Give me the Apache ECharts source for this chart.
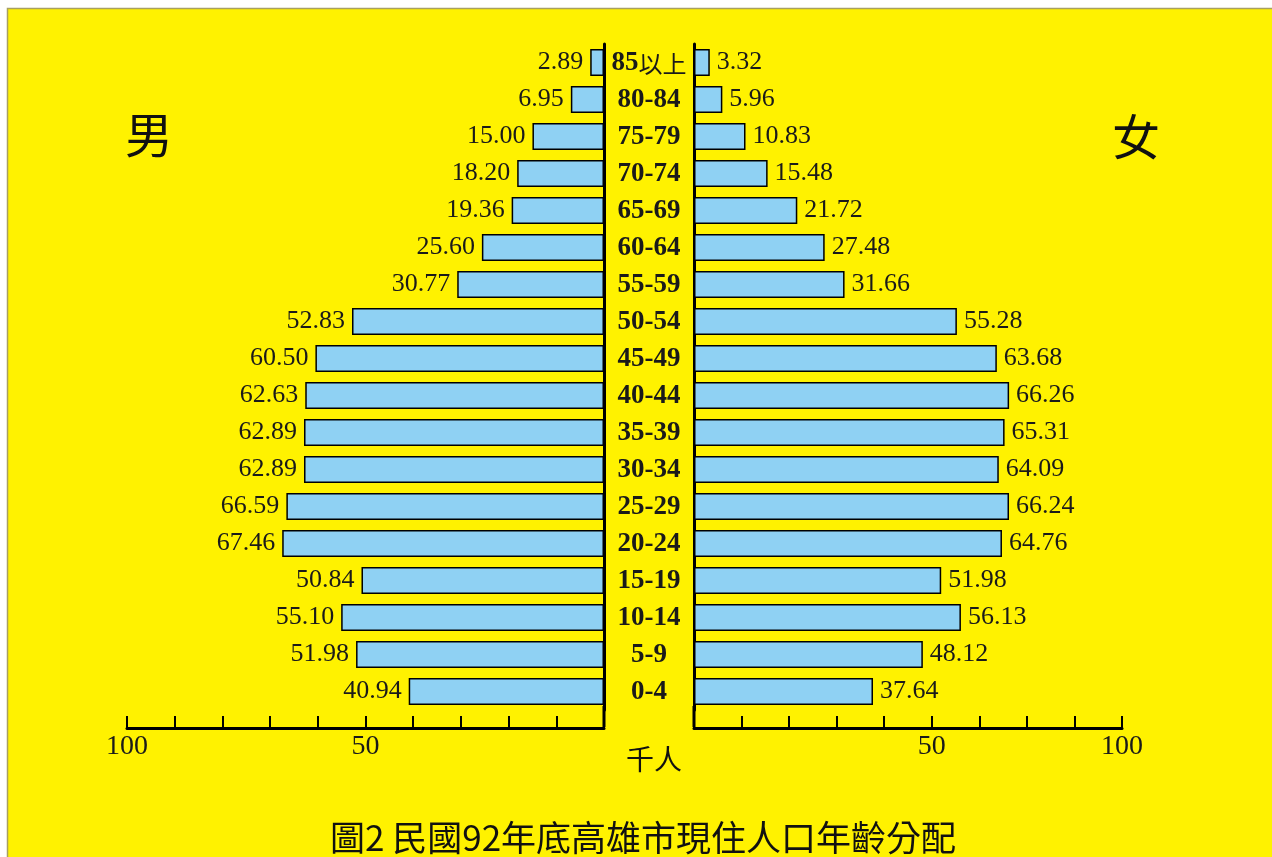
<!DOCTYPE html>
<html><head><meta charset="utf-8">
<script src="https://cdn.jsdelivr.net/npm/echarts@6/dist/echarts.min.js"></script>
<style>html,body{margin:0;padding:0;background:#fff}#c{width:1272px;height:857px}</style>
</head><body><div id="c"></div>
<script>
const ageGroups = ['0-4','5-9','10-14','15-19','20-24','25-29','30-34','35-39','40-44','45-49','50-54','55-59','60-64','65-69','70-74','75-79','80-84','85以上'];
const maleValues = [40.94,51.98,55.10,50.84,67.46,66.59,62.89,62.89,62.63,60.50,52.83,30.77,25.60,19.36,18.20,15.00,6.95,2.89];
const femaleValues = [37.64,48.12,56.13,51.98,64.76,66.24,64.09,65.31,66.26,63.68,55.28,31.66,27.48,21.72,15.48,10.83,5.96,3.32];
const maleTickLabels = {50:'50',100:'100'};
const femaleTickLabels = {50:'50',90:'100'};
const titleText = '圖2 民國92年底高雄市現住人口年齡分配';

const serif = '"Liberation Serif","Noto Sans CJK TC",serif';
const cjk = '"Noto Sans CJK TC",sans-serif';
const chart = echarts.init(document.getElementById('c'));
const axisX = (idx, max, labels, inverse) => ({
  type:'value', gridIndex:idx, min:0, max:max, interval:10, inverse:inverse,
  position:'bottom', offset:18,
  axisLine:{show:true, lineStyle:{color:'#000', width:3}},
  axisTick:{show:true, inside:true, length:12, lineStyle:{color:'#000', width:2}},
  splitLine:{show:false},
  axisLabel:{show:true, margin:5, fontFamily:serif, fontSize:28, color:'#1a1a1a',
    formatter:v => labels[v] || '', showMinLabel:true, showMaxLabel:true}
});
const catLabel = v => {
  const m = v.match(/^([0-9\-]+)(.*)$/);
  return m[2] ? '{b|' + m[1] + '}{c|' + m[2] + '}' : '{b|' + v + '}';
};
chart.setOption({
  backgroundColor:'#ffffff',
  animation:false,
  graphic:[
    {type:'rect', z:-10, shape:{x:7.5,y:8.5,width:1270,height:855}, style:{fill:'#fff200', stroke:'#a8a060', lineWidth:1.5}},
    {type:'line', z:10, shape:{x1:604,y1:706,x2:604,y2:727}, style:{stroke:'#000', lineWidth:3}},
    {type:'line', z:10, shape:{x1:694,y1:706,x2:694,y2:727}, style:{stroke:'#000', lineWidth:3}},
    {type:'text', x:149, y:135, style:{text:'男', font:'48px '+cjk, fill:'#111', align:'center', verticalAlign:'middle'}},
    {type:'text', x:1136, y:137, style:{text:'女', font:'48px '+cjk, fill:'#111', align:'center', verticalAlign:'middle'}},
    {type:'text', x:654, y:759, style:{text:'千人', font:'28px '+cjk, fill:'#111', align:'center', verticalAlign:'middle'}},
    {type:'text', x:643, y:838, style:{text:titleText, font:'35px '+cjk, fill:'#111', align:'center', verticalAlign:'middle'}}
  ],
  grid:[
    {left:127, width:477, top:44, bottom:147},
    {left:694, width:428, top:44, bottom:147}
  ],
  xAxis:[axisX(0,100,maleTickLabels,true), axisX(1,90,femaleTickLabels,false)],
  yAxis:[
    {type:'category', gridIndex:0, data:ageGroups, position:'right',
      axisLine:{show:true, lineStyle:{color:'#000', width:3}}, axisTick:{show:false}, axisLabel:{show:false}},
    {type:'category', gridIndex:1, data:ageGroups, position:'left',
      axisLine:{show:true, lineStyle:{color:'#000', width:3}}, axisTick:{show:false},
      axisLabel:{show:true, margin:45, align:'center', formatter:catLabel,
        rich:{b:{fontFamily:serif, fontWeight:'bold', fontSize:27, color:'#1a1a1a', padding:[2,0,0,0]},
              c:{fontFamily:cjk, fontWeight:'normal', fontSize:24, color:'#1a1a1a', padding:[2,0,0,0]}}}}
  ],
  series:[
    {type:'bar', xAxisIndex:0, yAxisIndex:0, data:maleValues, barWidth:27,
      itemStyle:{color:'#8fd1f3', borderColor:'#000', borderWidth:1.5},
      label:{show:true, position:'left', distance:7, fontFamily:serif, fontSize:26, color:'#1a1a1a', padding:[3,0,0,0], formatter:p => p.value.toFixed(2)}},
    {type:'bar', xAxisIndex:1, yAxisIndex:1, data:femaleValues, barWidth:27,
      itemStyle:{color:'#8fd1f3', borderColor:'#000', borderWidth:1.5},
      label:{show:true, position:'right', distance:7, fontFamily:serif, fontSize:26, color:'#1a1a1a', padding:[3,0,0,0], formatter:p => p.value.toFixed(2)}}
  ]
});
</script></body></html>
